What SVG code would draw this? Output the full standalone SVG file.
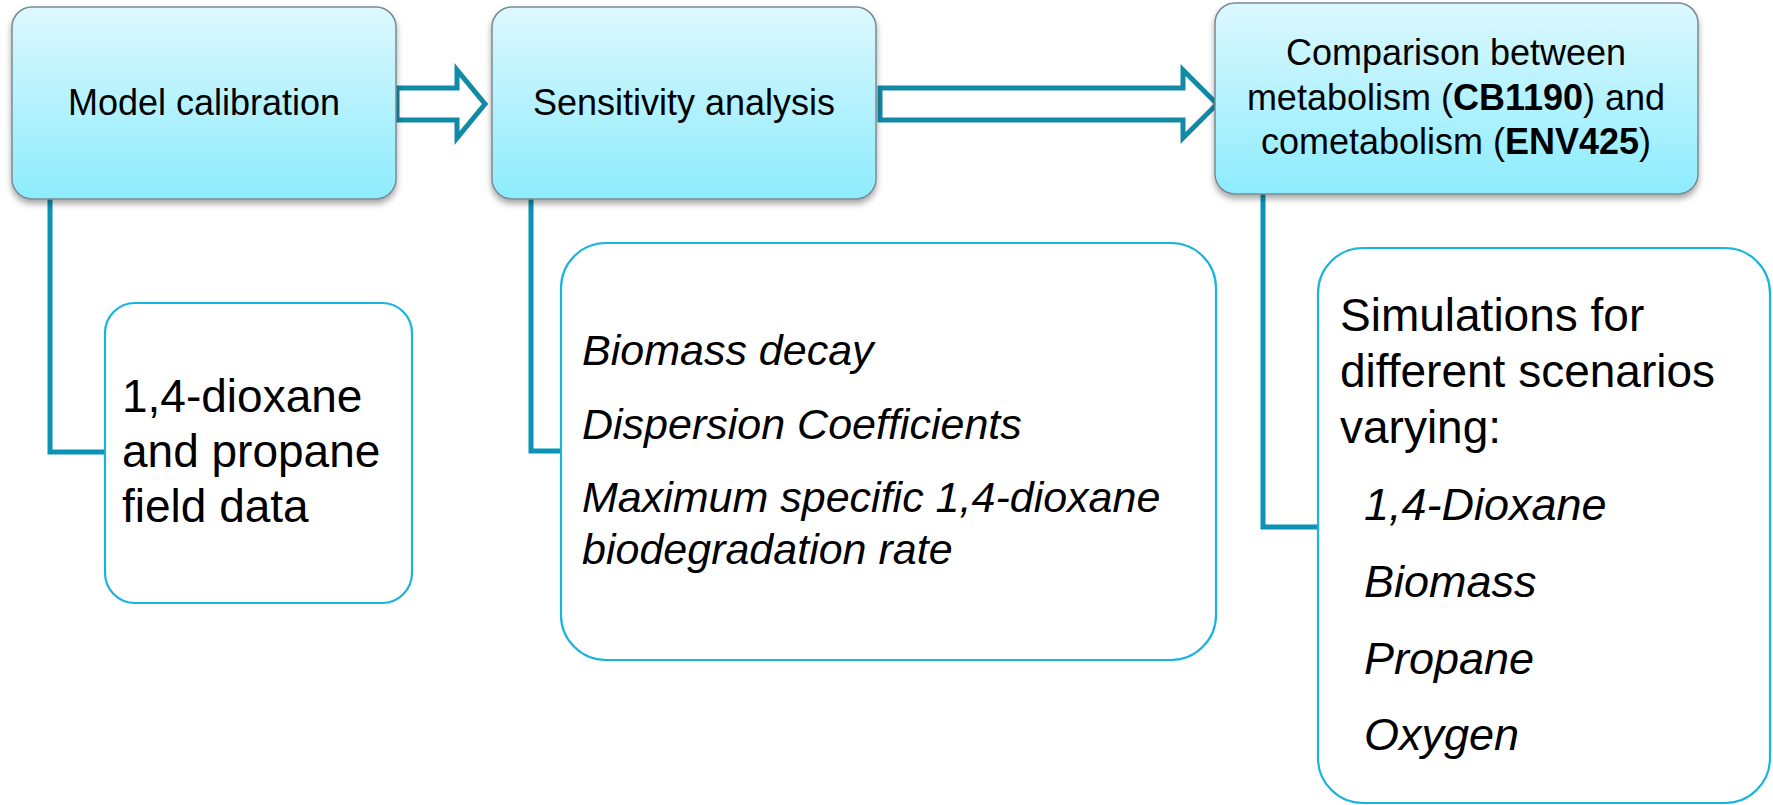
<svg xmlns="http://www.w3.org/2000/svg" width="1773" height="805" viewBox="0 0 1773 805">
<defs>
<linearGradient id="g" x1="0" y1="0" x2="0" y2="1">
<stop offset="0" stop-color="#dcf8fe"/>
<stop offset="1" stop-color="#8decfd"/>
</linearGradient>
<filter id="sh" x="-10%" y="-10%" width="120%" height="130%">
<feDropShadow dx="0" dy="4" stdDeviation="3" flood-color="#000" flood-opacity="0.35"/>
</filter>
<style>
.main{fill:url(#g);stroke:#7a8a90;stroke-width:1.5;filter:url(#sh)}
.det{fill:#fff;stroke:#19b3e0;stroke-width:2.2}
.arr{fill:#fff;stroke:#1289a7;stroke-width:5;stroke-linejoin:miter}
.con{fill:none;stroke:#0a93b5;stroke-width:5;stroke-linejoin:miter}
text{font-family:"Liberation Sans",Arial,sans-serif;fill:#000}
.t36{font-size:36px}
.t46{font-size:46px}
.i43{font-size:43px;font-style:italic}
.i45{font-size:45px;font-style:italic}
.b{font-weight:bold}
</style>
</defs>
<g id="connectors">
<polyline class="con" points="50,199 50,452 106,452"/>
<polyline class="con" points="531,199 531,451 562,451"/>
<polyline class="con" points="1263,194 1263,527 1319,527"/>
<polygon class="arr" points="397,88 457,88 457,70 485,104 457,138 457,120 397,120"/>
<polygon class="arr" points="880,88 1183,88 1183,70 1217,104 1183,138 1183,120 880,120"/>
</g>
<g id="model-calibration">
<rect class="main" x="12" y="7" width="384" height="192" rx="20"/>
<text class="t36" x="204" y="115" text-anchor="middle">Model calibration</text>
</g>
<g id="sensitivity-analysis">
<rect class="main" x="492" y="7" width="384" height="192" rx="20"/>
<text class="t36" x="684" y="115" text-anchor="middle">Sensitivity analysis</text>
</g>
<g id="comparison">
<rect class="main" x="1215" y="3" width="483" height="191" rx="20"/>
<text class="t36" x="1456" y="65" text-anchor="middle">Comparison between</text>
<text class="t36" x="1456" y="110" text-anchor="middle">metabolism (<tspan class="b">CB1190</tspan>) and</text>
<text class="t36" x="1456" y="154" text-anchor="middle">cometabolism (<tspan class="b">ENV425</tspan>)</text>
</g>
<g id="field-data">
<rect class="det" x="105" y="303" width="307" height="300" rx="30"/>
<text class="t46" x="122" y="412">1,4-dioxane</text>
<text class="t46" x="122" y="467">and propane</text>
<text class="t46" x="122" y="522">field data</text>
</g>
<g id="sensitivity-params">
<rect class="det" x="561" y="243" width="655" height="417" rx="45"/>
<text class="i43" x="582" y="365">Biomass decay</text>
<text class="i43" x="582" y="439">Dispersion Coefficients</text>
<text class="i43" x="582" y="512">Maximum specific 1,4-dioxane</text>
<text class="i43" x="582" y="564">biodegradation rate</text>
</g>
<g id="simulations">
<rect class="det" x="1318" y="248" width="452" height="555" rx="45"/>
<text class="t46" x="1340" y="331">Simulations for</text>
<text class="t46" x="1340" y="387">different scenarios</text>
<text class="t46" x="1340" y="443">varying:</text>
<text class="i45" x="1364" y="520">1,4-Dioxane</text>
<text class="i45" x="1364" y="597">Biomass</text>
<text class="i45" x="1364" y="674">Propane</text>
<text class="i45" x="1364" y="750">Oxygen</text>
</g>
</svg>
